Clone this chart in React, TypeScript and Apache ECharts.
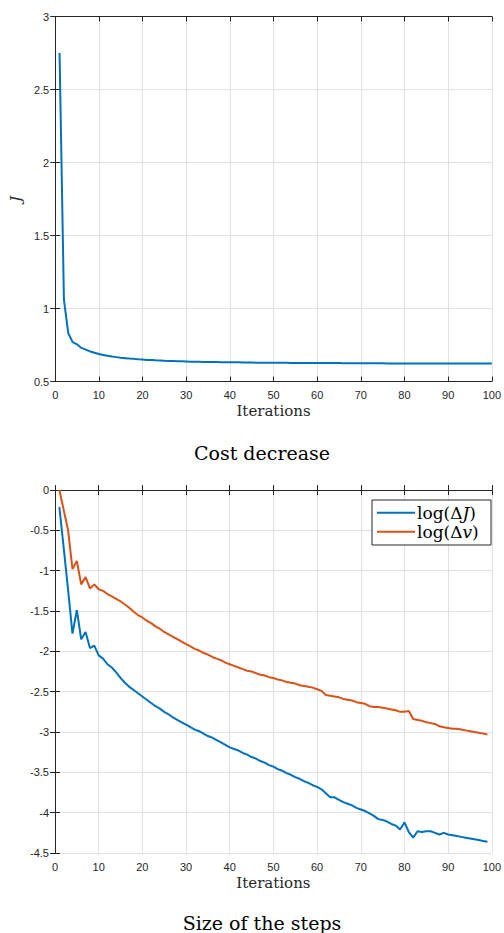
import React, { useEffect, useRef } from "react";
import * as echarts from "echarts";

const costJ: number[] = [
  2.75, 1.06, 0.83, 0.77, 0.755, 0.73, 0.718, 0.706, 0.697, 0.688,
  0.682, 0.676, 0.671, 0.667, 0.663, 0.66, 0.657, 0.655, 0.652, 0.65,
  0.648, 0.647, 0.645, 0.644, 0.642, 0.641, 0.64, 0.639, 0.638, 0.637,
  0.636, 0.636, 0.635, 0.634, 0.634, 0.633, 0.633, 0.632, 0.632, 0.631,
  0.631, 0.631, 0.63, 0.63, 0.63, 0.629, 0.629, 0.629, 0.629, 0.628,
  0.628, 0.628, 0.628, 0.627, 0.627, 0.627, 0.627, 0.627, 0.626, 0.626,
  0.626, 0.626, 0.626, 0.626, 0.626, 0.625, 0.625, 0.625, 0.625, 0.625,
  0.625, 0.625, 0.625, 0.625, 0.625, 0.624, 0.624, 0.624, 0.624, 0.624,
  0.624, 0.624, 0.624, 0.624, 0.624, 0.624, 0.624, 0.623, 0.623, 0.623,
  0.623, 0.623, 0.623, 0.623, 0.623, 0.623, 0.623, 0.623, 0.623, 0.623,
];

const logDeltaJ: number[] = [
  -0.21, -0.72, -1.24, -1.78, -1.49, -1.85, -1.76, -1.96, -1.93, -2.05,
  -2.09, -2.16, -2.2, -2.26, -2.33, -2.39, -2.44, -2.48, -2.52, -2.56,
  -2.6, -2.64, -2.68, -2.71, -2.75, -2.78, -2.82, -2.85, -2.88, -2.91,
  -2.94, -2.97, -2.99, -3.02, -3.05, -3.07, -3.1, -3.13, -3.16, -3.19,
  -3.21, -3.23, -3.26, -3.28, -3.31, -3.33, -3.36, -3.38, -3.41, -3.43,
  -3.46, -3.48, -3.51, -3.53, -3.56, -3.58, -3.61, -3.63, -3.66, -3.68,
  -3.71, -3.76, -3.81, -3.81, -3.84, -3.87, -3.89, -3.91, -3.94, -3.96,
  -3.98, -4.01, -4.04, -4.08, -4.09, -4.11, -4.14, -4.16, -4.21, -4.12,
  -4.24, -4.31, -4.23, -4.24, -4.23, -4.23, -4.25, -4.27, -4.25, -4.27,
  -4.28, -4.29, -4.3, -4.31, -4.32, -4.33, -4.34, -4.35, -4.36,
];

const logDeltaV: number[] = [
  0.0, -0.25, -0.5, -0.98, -0.88, -1.17, -1.08, -1.22, -1.17, -1.23,
  -1.25, -1.29, -1.32, -1.35, -1.38, -1.42, -1.46, -1.51, -1.55, -1.58,
  -1.62, -1.65, -1.69, -1.72, -1.76, -1.79, -1.82, -1.85, -1.88, -1.91,
  -1.94, -1.97, -1.99, -2.02, -2.04, -2.07, -2.09, -2.11, -2.14, -2.16,
  -2.18, -2.2, -2.22, -2.24, -2.25, -2.27, -2.29, -2.3, -2.32, -2.33,
  -2.35, -2.36, -2.38, -2.39, -2.4, -2.42, -2.43, -2.44, -2.45, -2.47,
  -2.49, -2.54, -2.55, -2.56, -2.57, -2.59, -2.6, -2.61, -2.63, -2.64,
  -2.65, -2.68, -2.69, -2.69, -2.7, -2.71, -2.72, -2.73, -2.75, -2.75,
  -2.74, -2.84, -2.85, -2.86, -2.88, -2.89, -2.9, -2.93, -2.94, -2.95,
  -2.96, -2.96, -2.97, -2.98, -2.99, -3.0, -3.01, -3.02, -3.03,
];

const seriesNames = ["log(ΔJ)", "log(Δv)"];
const legendRich = ["log(Δ{it|J})", "log(Δ{it|v})"];
const xLabel = "Iterations";
const yLabelTop = "J";
const titleTop = "Cost decrease";
const titleBottom = "Size of the steps";

const BLUE = "#0072BD";
const ORANGE = "#D95319";
const AXIS = "#262626";
const GRID = "#e1e1e1";
const SANS = "Liberation Sans, Arial, Helvetica, sans-serif";
const SERIF = "DejaVu Serif, serif";

const toPairs = (arr: number[]) => arr.map((v, i) => [i + 1, v]);

function mainX(gridIndex: number) {
  return {
    type: "value",
    gridIndex,
    min: 0,
    max: 100,
    interval: 10,
    position: "bottom",
    axisLine: { show: true, lineStyle: { color: AXIS, width: 1 } },
    axisTick: { show: true, inside: true, length: 5, lineStyle: { color: AXIS } },
    axisLabel: { color: AXIS, fontSize: 11, fontFamily: SANS, margin: 8 },
    splitLine: { show: true, lineStyle: { color: GRID, width: 1 } },
    name: xLabel,
    nameLocation: "middle",
    nameGap: 22,
    nameTextStyle: { fontFamily: SERIF, fontSize: 15, color: AXIS, verticalAlign: "top" },
  };
}
function mirrorX(gridIndex: number) {
  return {
    type: "value",
    gridIndex,
    min: 0,
    max: 100,
    interval: 10,
    position: "top",
    axisLine: { show: true, lineStyle: { color: AXIS, width: 1 } },
    axisTick: { show: true, inside: true, length: 5, lineStyle: { color: AXIS } },
    axisLabel: { show: false },
    splitLine: { show: false },
  };
}
function mainY(gridIndex: number, min: number, max: number, name: string) {
  return {
    type: "value",
    gridIndex,
    min,
    max,
    interval: 0.5,
    position: "left",
    axisLine: { show: true, lineStyle: { color: AXIS, width: 1 } },
    axisTick: { show: true, inside: true, length: 5, lineStyle: { color: AXIS } },
    axisLabel: { color: AXIS, fontSize: 11, fontFamily: SANS, margin: 6 },
    splitLine: { show: true, lineStyle: { color: GRID, width: 1 } },
    name,
    nameLocation: "middle",
    nameGap: 29,
    nameRotate: 90,
    nameTextStyle: { fontFamily: SERIF, fontSize: 15, fontStyle: "italic", color: AXIS },
  };
}
function mirrorY(gridIndex: number, min: number, max: number) {
  return {
    type: "value",
    gridIndex,
    min,
    max,
    interval: 0.5,
    position: "right",
    axisLine: { show: true, lineStyle: { color: AXIS, width: 1 } },
    axisTick: { show: true, inside: true, length: 5, lineStyle: { color: AXIS } },
    axisLabel: { show: false },
    splitLine: { show: false },
  };
}

function legendEntry(i: number, y: number, color: string) {
  return [
    {
      type: "line",
      z: 100,
      shape: { x1: 377, y1: y, x2: 415, y2: y },
      style: { stroke: color, lineWidth: 2 },
    },
    {
      type: "text",
      z: 100,
      x: 417,
      y,
      style: {
        text: legendRich[i],
        fontFamily: SERIF,
        fontSize: 17,
        fill: "#000",
        textAlign: "left",
        textVerticalAlign: "middle",
        rich: {
          it: { fontFamily: SERIF, fontSize: 17, fontStyle: "italic", fill: "#000" },
        },
      },
    },
  ];
}

export default function App() {
  const ref = useRef<HTMLDivElement>(null);
  useEffect(() => {
    document.body.style.margin = "0";
    if (!ref.current) return;
    const chart = echarts.init(ref.current, null, { renderer: "svg" });
    chart.setOption({
      animation: false,
      backgroundColor: "#ffffff",
      grid: [
        { left: 55, right: 11, top: 16.5, height: 365 },
        { left: 55, right: 11, top: 490, height: 363 },
      ],
      xAxis: [mainX(0), mirrorX(0), mainX(1), mirrorX(1)],
      yAxis: [
        mainY(0, 0.5, 3, yLabelTop),
        mirrorY(0, 0.5, 3),
        mainY(1, -4.5, 0, ""),
        mirrorY(1, -4.5, 0),
      ],
      series: [
        {
          name: "J",
          type: "line",
          xAxisIndex: 0,
          yAxisIndex: 0,
          data: toPairs(costJ),
          showSymbol: false,
          symbol: "none",
          lineStyle: { color: BLUE, width: 2 },
          itemStyle: { color: BLUE },
        },
        {
          name: seriesNames[0],
          type: "line",
          xAxisIndex: 2,
          yAxisIndex: 2,
          data: toPairs(logDeltaJ),
          showSymbol: false,
          symbol: "none",
          lineStyle: { color: BLUE, width: 2 },
          itemStyle: { color: BLUE },
        },
        {
          name: seriesNames[1],
          type: "line",
          xAxisIndex: 2,
          yAxisIndex: 2,
          data: toPairs(logDeltaV),
          showSymbol: false,
          symbol: "none",
          lineStyle: { color: ORANGE, width: 2 },
          itemStyle: { color: ORANGE },
        },
      ],
      graphic: [
        {
          type: "rect",
          z: 99,
          shape: { x: 372, y: 500, width: 119, height: 45 },
          style: { fill: "#ffffff", stroke: AXIS, lineWidth: 1 },
        },
        ...legendEntry(0, 512.7, BLUE),
        ...legendEntry(1, 531.7, ORANGE),
        {
          type: "text",
          x: 262,
          y: 453,
          style: {
            text: titleTop,
            fontFamily: SERIF,
            fontSize: 19,
            fill: "#000",
            textAlign: "center",
            textVerticalAlign: "middle",
          },
        },
        {
          type: "text",
          x: 262,
          y: 923,
          style: {
            text: titleBottom,
            fontFamily: SERIF,
            fontSize: 19,
            fill: "#000",
            textAlign: "center",
            textVerticalAlign: "middle",
          },
        },
      ],
    });
    return () => chart.dispose();
  }, []);
  return <div ref={ref} style={{ width: 504, height: 933 }} />;
}
